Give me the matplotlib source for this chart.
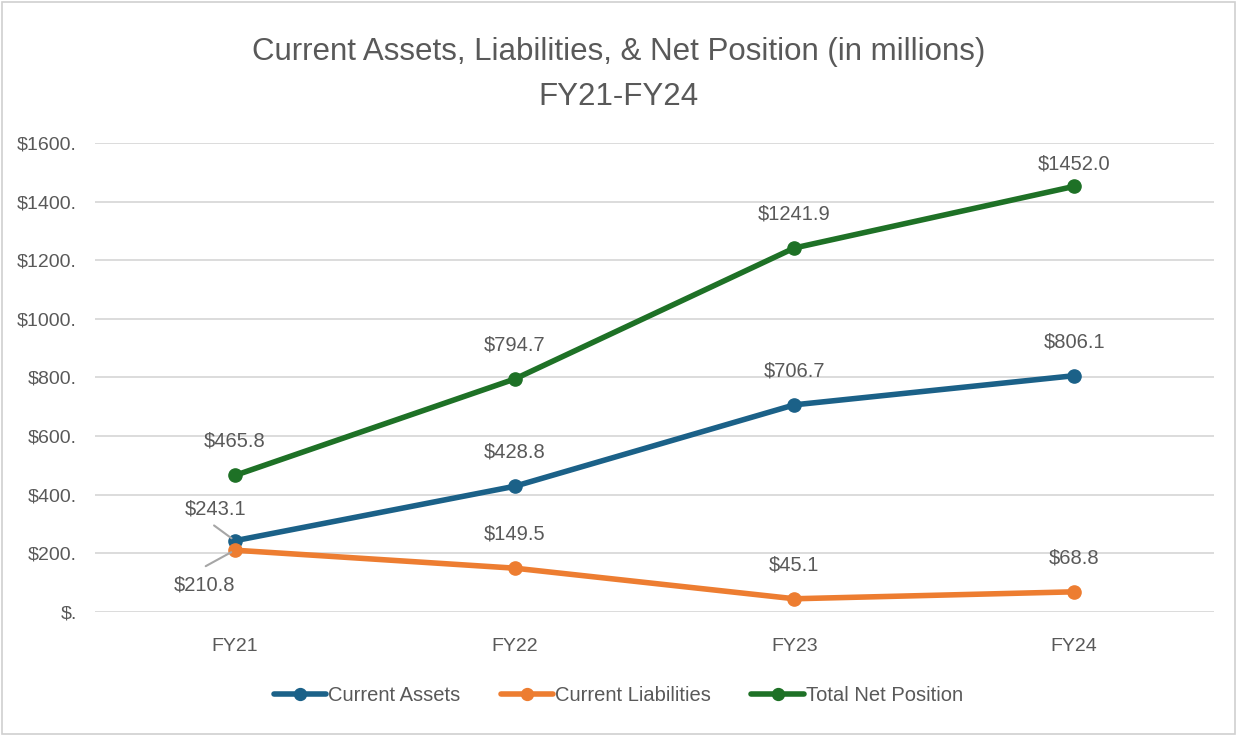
import matplotlib.pyplot as plt
from matplotlib.patches import Rectangle

years = ["FY21", "FY22", "FY23", "FY24"]
current_assets = [243.1, 428.8, 706.7, 806.1]
current_liabilities = [210.8, 149.5, 45.1, 68.8]
total_net_position = [465.8, 794.7, 1241.9, 1452.0]

plt.rcParams["font.family"] = ["Liberation Sans", "DejaVu Sans"]
grey_text = "#595959"

fig = plt.figure(figsize=(12.37, 7.36), dpi=100)
fig.patches.append(Rectangle((0.002, 0.003), 0.996, 0.994, transform=fig.transFigure,
                             fill=False, edgecolor="#d0d0d0", linewidth=1.2))
ax = fig.add_axes([0.0768, 0.1685, 0.9046, 0.6372])

x = list(range(len(years)))
series = [
    ("Current Assets", current_assets, "#1b6188"),
    ("Current Liabilities", current_liabilities, "#ed7d31"),
    ("Total Net Position", total_net_position, "#1e7126"),
]
for name, vals, color in series:
    ax.plot(x, vals, color=color, linewidth=4, marker="o", markersize=9.5,
            label=name, solid_capstyle="round", zorder=3)

# data labels above the points
for name, vals, color in series:
    for i, v in enumerate(vals):
        if i == 0 and name != "Total Net Position":
            continue
        dy = 16 if v > 1400 else 24.5  # top label squeezed like the original
        ax.annotate(f"${v:.1f}", (i, v), xytext=(0, dy), textcoords="offset points",
                    ha="center", va="center", fontsize=14.5, color=grey_text)

# FY21 labels moved off the overlapping points, with leader lines
leader = dict(arrowstyle="-", color="#a6a6a6", lw=1.5, shrinkA=0, shrinkB=3)
ax.annotate(f"${current_assets[0]:.1f}", (0, current_assets[0]), xytext=(-14, 23),
            textcoords="offset points", ha="center", va="center", fontsize=14.5,
            color=grey_text)
ax.annotate("", (0, current_assets[0]), xytext=(-15, 11),
            textcoords="offset points", arrowprops=leader)
ax.annotate(f"${current_liabilities[0]:.1f}", (0, current_liabilities[0]), xytext=(-22, -25),
            textcoords="offset points", ha="center", va="center", fontsize=14.5,
            color=grey_text)
ax.annotate("", (0, current_liabilities[0]), xytext=(-21, -11.5),
            textcoords="offset points", arrowprops=leader)

ax.set_xlim(-0.5, 3.5)
ax.set_ylim(0, 1600)
ax.set_yticks(range(0, 1601, 200))
ax.set_yticklabels(["$."] + [f"${t}." for t in range(200, 1601, 200)])
ax.set_xticks(x)
ax.set_xticklabels(years)
ax.tick_params(axis="both", length=0, labelsize=14, labelcolor=grey_text)
ax.tick_params(axis="y", pad=13)
ax.tick_params(axis="x", pad=19)
ax.grid(axis="y", color="#d9d9d9", linewidth=1.3, zorder=0)
ax.set_axisbelow(True)
for s in ax.spines.values():
    s.set_visible(False)

fig.text(0.5, 0.929, "Current Assets, Liabilities, & Net Position (in millions)",
         ha="center", va="center", fontsize=22.5, color=grey_text)
fig.text(0.5, 0.868, "FY21-FY24", ha="center", va="center", fontsize=22.5, color=grey_text)

fig.legend(loc="center", bbox_to_anchor=(0.5, 0.055), ncol=3, frameon=False,
           fontsize=14.5, labelcolor=grey_text, handlelength=2.6, handletextpad=0.1,
           columnspacing=2.0, markerscale=0.9)

fig.savefig("out.png", dpi=100)
